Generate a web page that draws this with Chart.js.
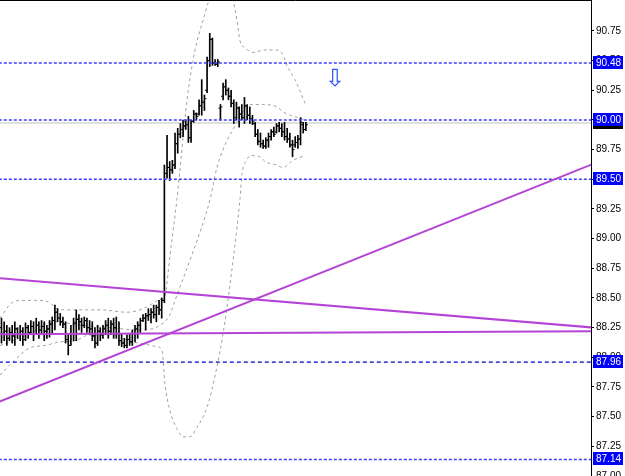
<!DOCTYPE html>
<html><head><meta charset="utf-8">
<script src="https://cdn.jsdelivr.net/npm/chart.js@4.4.1/dist/chart.umd.min.js"></script>
<style>html,body{margin:0;padding:0;background:#fff;overflow:hidden}canvas{display:block}</style>
</head><body>
<canvas id="c" width="625" height="476"></canvas>
<script>
// OHLC bars (index = bar number)
const highs = [88.33,88.30,88.27,88.25,88.27,88.30,88.25,88.27,88.25,88.29,
88.27,88.31,88.30,88.33,88.30,88.31,88.30,88.27,88.31,88.34,
88.44,88.41,88.37,88.34,88.30,88.19,88.27,88.33,88.40,88.36,
88.33,88.34,88.33,88.31,88.30,88.25,88.27,88.25,88.27,88.31,
88.33,88.31,88.33,88.34,88.30,88.20,88.16,88.19,88.20,88.23,
88.27,88.30,88.33,88.36,88.37,88.41,88.41,88.44,88.44,88.48,
88.50,89.62,89.87,89.65,89.66,89.89,89.93,89.97,90.00,90.00,
90.03,90.00,90.08,90.06,90.17,90.34,90.21,90.53,90.73,90.69,
90.51,90.51,90.13,90.31,90.34,90.27,90.25,90.17,90.15,90.11,
90.13,90.19,90.13,90.11,90.04,89.98,89.92,89.89,89.83,89.85,
89.89,89.92,89.94,89.97,89.98,89.97,89.98,89.93,89.89,89.83,
89.86,89.87,90.02,89.98,89.98];
const lows = [88.12,88.14,88.10,88.14,88.12,88.10,88.16,88.14,88.10,88.14,
88.16,88.19,88.14,88.20,88.16,88.19,88.14,88.16,88.17,88.20,
88.23,88.30,88.27,88.25,88.12,88.02,88.10,88.14,88.14,88.23,
88.21,88.25,88.21,88.19,88.14,88.08,88.10,88.14,88.16,88.19,
88.16,88.19,88.16,88.16,88.10,88.09,88.08,88.08,88.10,88.10,
88.13,88.16,88.21,88.30,88.23,88.31,88.29,88.33,88.30,88.36,
88.33,88.46,89.51,89.49,89.55,89.59,89.72,89.85,89.86,89.92,
89.81,89.81,89.98,90.00,90.04,90.04,90.08,90.23,90.45,90.46,
90.46,90.45,90.00,90.17,90.21,90.17,90.11,89.97,90.00,89.94,
90.00,89.97,90.00,89.97,89.96,89.86,89.79,89.77,89.76,89.76,
89.77,89.83,89.86,89.89,89.90,89.86,89.83,89.81,89.77,89.69,
89.77,89.76,89.79,89.89,89.91];
const opens = [88.25,88.20,88.22,88.16,88.21,88.18,88.24,88.20,88.22,88.15,
88.25,88.21,88.26,88.20,88.27,88.23,88.26,88.22,88.24,88.28,
88.31,88.38,88.33,88.30,88.28,88.15,88.10,88.20,88.29,88.32,
88.30,88.27,88.31,88.25,88.24,88.18,88.12,88.22,88.19,88.24,
88.27,88.22,88.28,88.25,88.20,88.14,88.12,88.10,88.15,88.13,
88.20,88.24,88.27,88.31,88.33,88.35,88.36,88.38,88.36,88.42,
88.40,88.48,89.55,89.60,89.58,89.62,89.80,89.88,89.92,89.95,
89.96,89.85,89.99,90.05,90.05,90.12,90.15,90.25,90.50,90.68,
90.48,90.47,90.10,90.20,90.28,90.25,90.20,90.14,90.02,90.10,
90.05,90.02,90.12,90.04,90.01,89.97,89.88,89.82,89.80,89.78,
89.83,89.86,89.90,89.90,89.95,89.93,89.90,89.86,89.84,89.79,
89.79,89.81,89.84,89.96,89.92];
const closes = [88.20,88.22,88.16,88.21,88.18,88.24,88.20,88.22,88.15,88.25,
88.21,88.26,88.20,88.27,88.23,88.26,88.22,88.24,88.28,88.31,
88.38,88.33,88.30,88.28,88.15,88.10,88.20,88.29,88.32,88.30,
88.27,88.31,88.25,88.24,88.18,88.12,88.22,88.19,88.24,88.27,
88.22,88.28,88.25,88.20,88.14,88.12,88.10,88.15,88.13,88.20,
88.24,88.27,88.31,88.33,88.35,88.36,88.38,88.36,88.42,88.40,
88.48,89.55,89.60,89.58,89.62,89.80,89.88,89.92,89.95,89.96,
89.85,89.99,90.05,90.03,90.12,90.15,90.18,90.50,90.68,90.48,
90.47,90.49,90.11,90.28,90.25,90.20,90.14,90.00,90.10,90.05,
90.02,90.12,90.04,90.01,89.99,89.88,89.82,89.80,89.78,89.83,
89.86,89.90,89.88,89.95,89.93,89.90,89.86,89.84,89.79,89.75,
89.81,89.84,89.98,89.92,89.96];

// Bollinger bands [barIndex, price]
const upperBand = [[-0.56,88.33],[3.9,88.46],[8.1,88.48],[13.3,88.48],[18.2,88.46],[20,88.42],[22.7,88.40],[28.3,88.40],[36.9,88.40],[47,88.38],[51.9,88.40],[55.6,88.44],[59.4,88.49],[61.2,88.52],[63.1,88.86],[65.7,89.33],[69.5,90.17],[72.5,90.59],[75.5,90.84],[77.7,91.01],[82.2,91.30],[86.7,91.01],[88.2,90.84],[89.3,90.67],[91.2,90.61],[94.2,90.57],[98.7,90.59],[103.2,90.59],[105.4,90.55],[106.9,90.46],[109.9,90.34],[113.7,90.14]];
const middleBand = [[-0.56,88.10],[4.3,88.14],[11.4,88.21],[15.5,88.27],[20,88.30],[29.4,88.27],[40.6,88.25],[51.9,88.23],[59.4,88.27],[63.1,88.36],[65,88.48],[70.6,88.82],[76.2,89.18],[78.1,89.33],[80.7,89.60],[84.5,89.83],[86.7,89.92],[89.3,90.03],[93.1,90.13],[98,90.13],[103.2,90.11],[105.4,90.07],[108.1,90.04],[111.1,90.02],[113.7,90.00]];
const lowerBand = [[-0.56,87.85],[5.1,87.98],[10.7,88.08],[16.3,88.10],[21.9,88.13],[27.5,88.14],[33.1,88.19],[44.4,88.19],[47,88.14],[51.9,88.12],[58.2,88.09],[60.1,88.06],[61.2,87.78],[63.1,87.55],[65.7,87.40],[68,87.33],[70.6,87.33],[73.2,87.41],[77,87.58],[80.7,87.92],[83,88.20],[84.8,88.48],[89.3,89.33],[90.1,89.55],[91.9,89.66],[93.1,89.70],[96.8,89.69],[98.7,89.65],[103.2,89.62],[105.4,89.60],[109.2,89.66],[113.7,89.70]];

// Trend lines [startIndex, startPrice, endIndex, endPrice]
const trendA = [-1, 88.667, 221, 88.252];
const trendB = [-1, 88.194, 221, 88.220];
const trendC = [-1, 87.625, 221, 89.625];

// Horizontal levels
const levelLines = [90.48, 90.00, 89.50, 87.14];
const darkLevel = 87.96;
const bidPrice = 89.975;
const priceLabels = [90.48, 90.00, 89.50, 87.96, 87.14];
const tickValues = [87.00,87.25,87.50,87.75,88.00,88.25,88.50,88.75,89.00,89.25,89.50,89.75,90.00,90.25,90.50,90.75];
const arrowMark = {x: 124.9, y: 90.34};

const idx = highs.map((_, i) => i);
const seg = (t) => [{x: t[0], y: t[1]}, {x: t[2], y: t[3]}];
const hseg = (v) => [{x: -1, y: v}, {x: 221, y: v}];
const band = (b) => b.map(p => ({x: p[0], y: p[1]}));

const datasets = [];
[trendA, trendB, trendC].forEach(t => datasets.push({type:'line', data: seg(t), borderColor:'#b544d6', borderWidth:2, pointRadius:0}));
levelLines.forEach(v => datasets.push({type:'line', data: hseg(v), borderColor:'#3c3cff', borderWidth:1.5, borderDash:[3,2], pointRadius:0}));
datasets.push({type:'line', data: hseg(darkLevel), borderColor:'#0000c8', borderWidth:1.2, borderDash:[4,3], pointRadius:0});
datasets.push({type:'bar', data: idx.map(i => ({x:i, y:[lows[i], highs[i]]})), backgroundColor:'#000', barThickness:1, borderWidth:0});
datasets.push({type:'scatter', data: idx.map(i => ({x:i-0.38, y:opens[i]})), pointStyle:'line', pointRadius:1, pointBorderWidth:1, pointBorderColor:'#000'});
datasets.push({type:'scatter', data: idx.map(i => ({x:i+0.38, y:closes[i]})), pointStyle:'line', pointRadius:1, pointBorderWidth:1, pointBorderColor:'#000'});
datasets.push({type:'line', data: hseg(bidPrice), borderColor:'#c0c0c0', borderWidth:1, pointRadius:0});
[upperBand, middleBand, lowerBand].forEach(b => datasets.push({type:'line', data: band(b), borderColor:'#a0a0a0', borderWidth:1, borderDash:[3,3], pointRadius:0, cubicInterpolationMode:'monotone'}));

const overlay = {
  id: 'overlay',
  afterDraw(chart) {
    const {ctx, chartArea, scales: {x, y}} = chart;
    ctx.save();
    ctx.strokeStyle = '#000'; ctx.lineWidth = 1;
    ctx.beginPath(); ctx.moveTo(chartArea.left, 0.5); ctx.lineTo(chartArea.right + 0.5, 0.5); ctx.stroke();
    ctx.font = '24px "DejaVu Sans"'; ctx.fillStyle = '#2a50ff';
    ctx.textAlign = 'center'; ctx.textBaseline = 'middle';
    ctx.fillText('\u21E9', x.getPixelForValue(arrowMark.x), y.getPixelForValue(arrowMark.y));
    ctx.font = '10px "Liberation Sans"'; ctx.textAlign = 'left';
    const bx = chartArea.right + 2, bw = 30, bh = 13;
    const box = (v, bg) => {
      const py = Math.round(y.getPixelForValue(v));
      ctx.fillStyle = bg; ctx.fillRect(bx, py - 7, bw, bh);
      ctx.fillStyle = '#fff'; ctx.fillText(v.toFixed(2), bx + 3, py);
    };
    box(bidPrice, '#000');
    priceLabels.forEach(v => box(v, '#0000ff'));
    ctx.restore();
  }
};

new Chart(document.getElementById('c'), {
  type: 'scatter',
  data: { datasets },
  options: {
    responsive: false, animation: false, events: [],
    layout: { padding: 0, autoPadding: false },
    plugins: { legend: {display:false}, tooltip: {enabled:false} },
    scales: {
      x: { type:'linear', min:-0.56, max:220.79, offset:false, display:false },
      y: {
        position: 'right', min: 87.0, max: 91.011,
        afterBuildTicks: s => { s.ticks = tickValues.map(v => ({value: v})); },
        afterFit: s => { s.width = 34; s.paddingTop = 0; s.paddingBottom = 0; },
        ticks: { callback: v => Number(v).toFixed(2), color:'#000', font:{family:'Liberation Sans', size:10}, padding:2, autoSkip:false, maxRotation:0 },
        grid: { drawOnChartArea:false, tickLength:3, color:'#000' },
        border: { color:'#000' }
      }
    }
  },
  plugins: [overlay]
});
</script>
</body></html>
